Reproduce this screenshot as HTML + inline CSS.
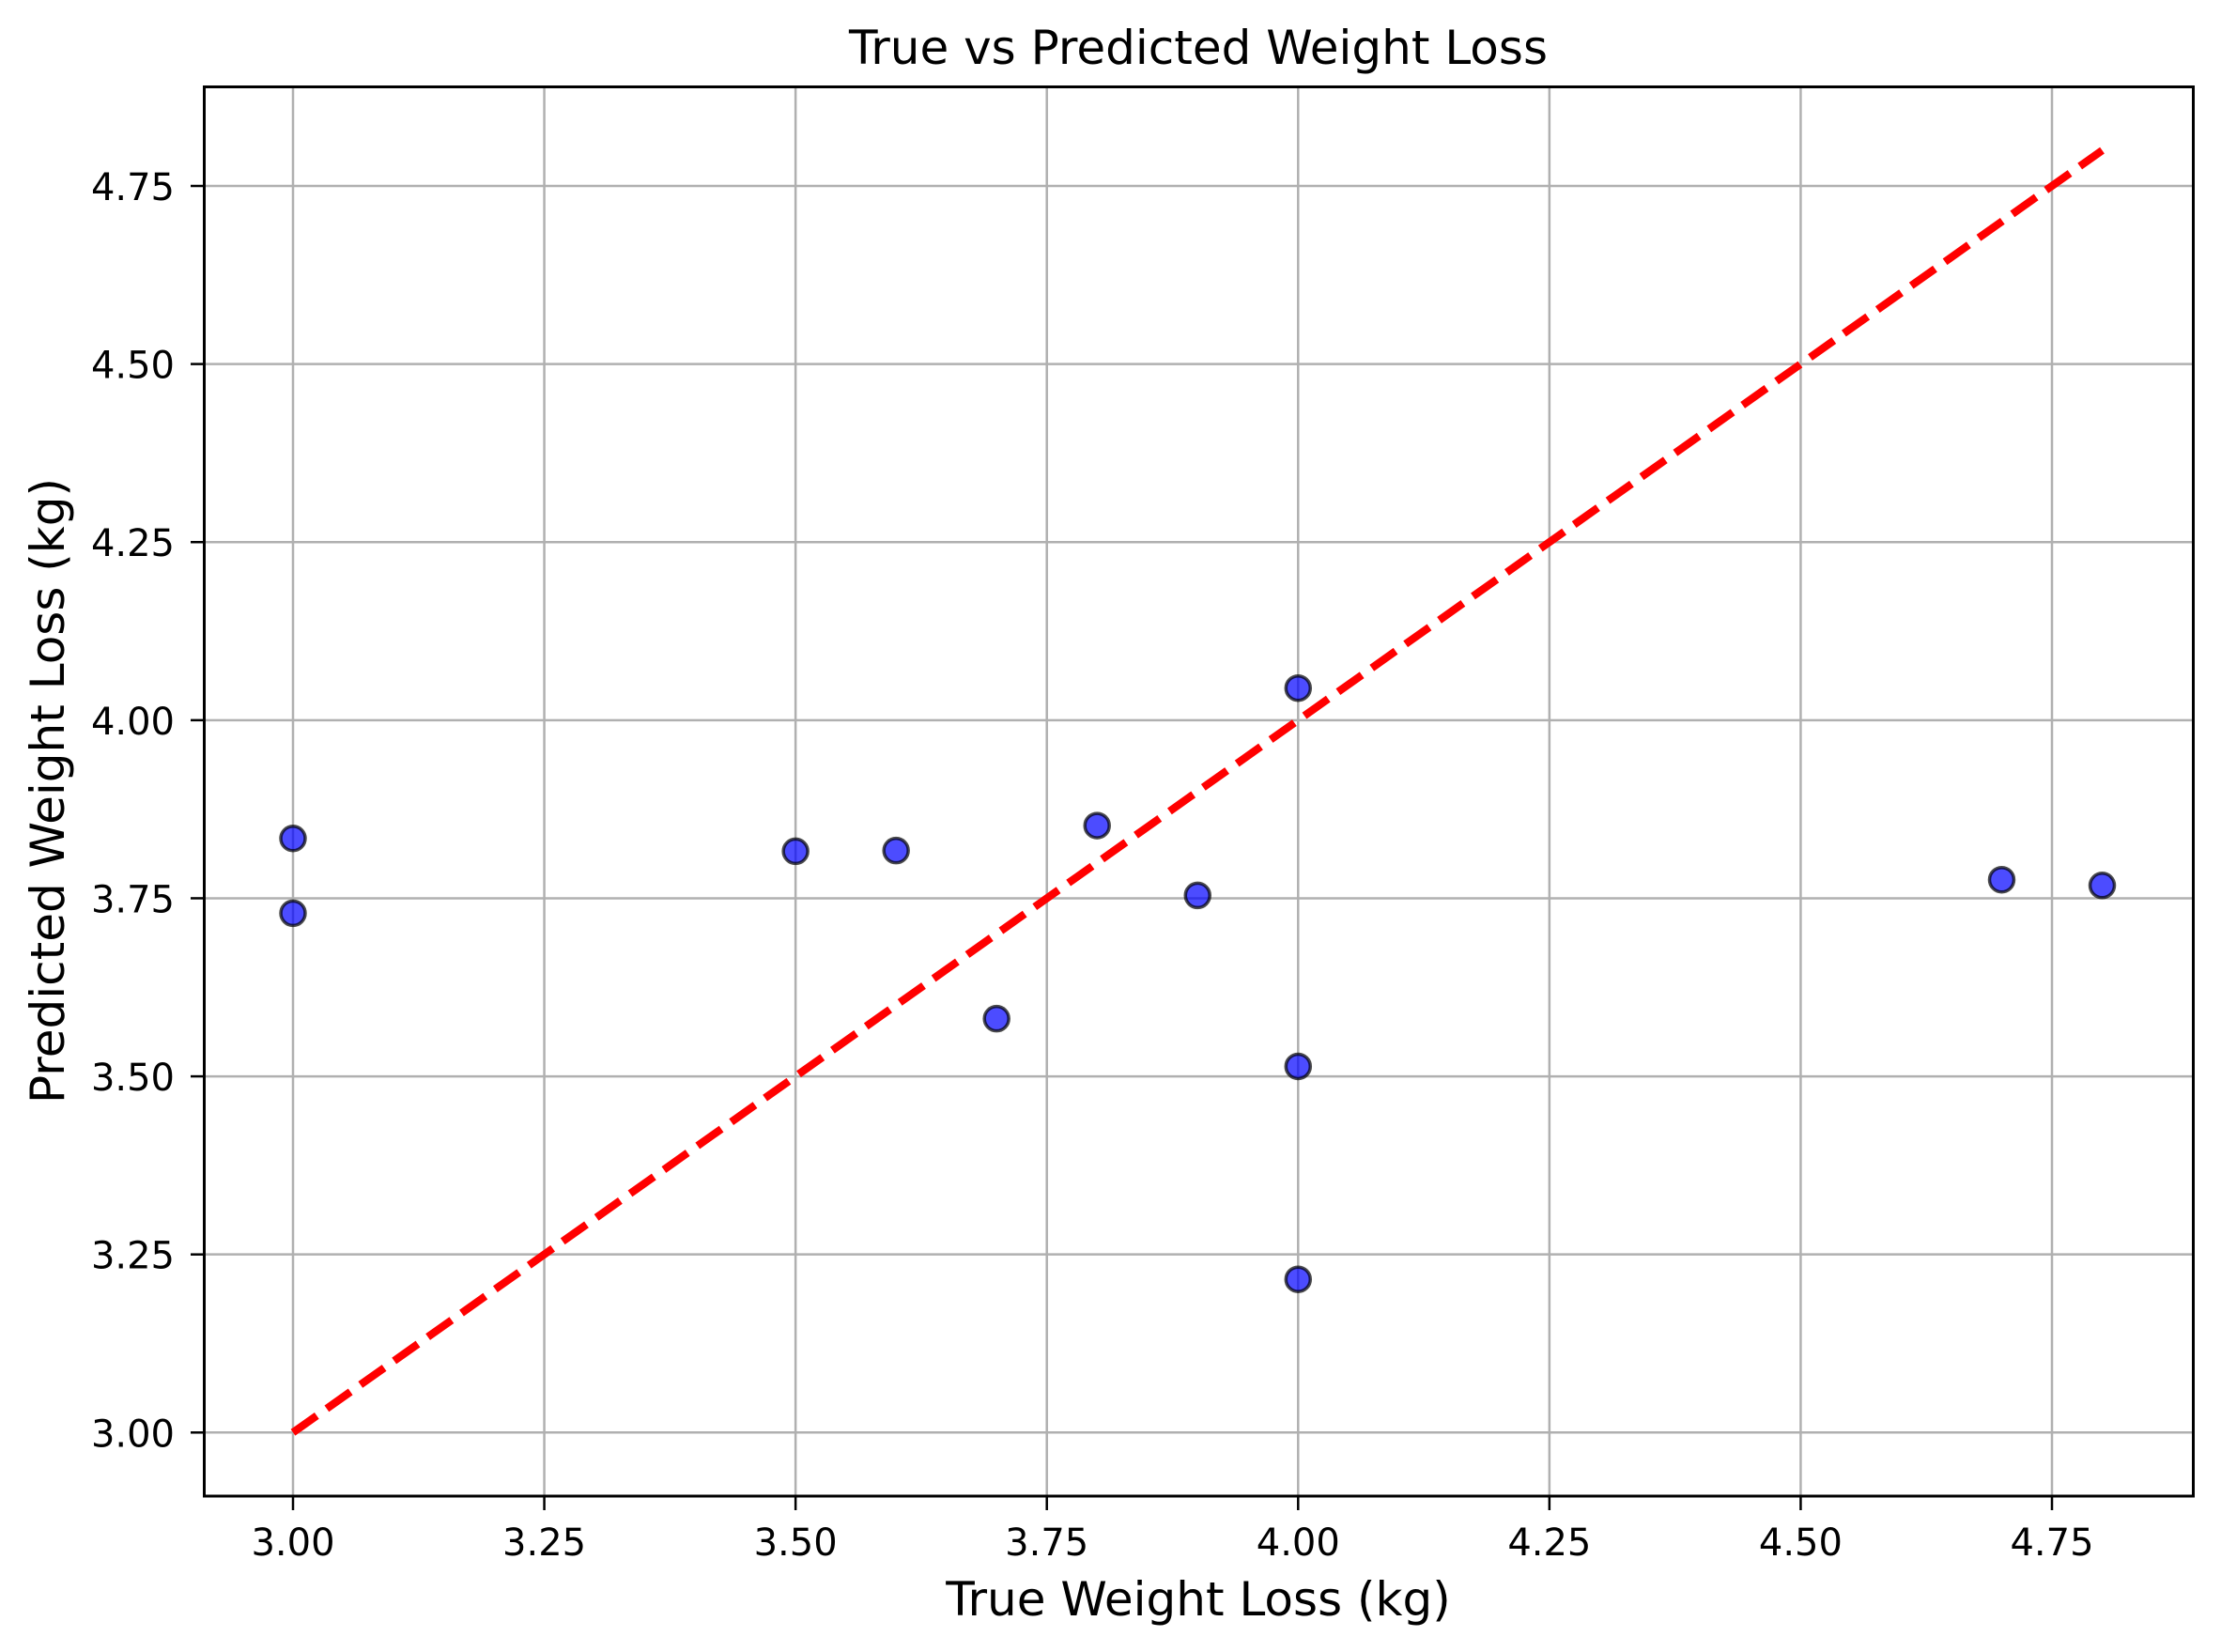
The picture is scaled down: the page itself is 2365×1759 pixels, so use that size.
<!DOCTYPE html>
<html><head><meta charset="utf-8"><style>
html,body{margin:0;padding:0;background:#fff;}
svg{display:block;font-family:"DejaVu Sans","Liberation Sans",sans-serif;}
</style></head><body>
<svg id="chart" width="2365" height="1759" viewBox="0 0 2365 1759" xmlns="http://www.w3.org/2000/svg">
<rect width="2365" height="1759" fill="#fff"/>
<g id="grid"></g>
<g id="ticks"></g>
<g id="marks"></g>
<rect x="217.5" y="92.5" width="2118" height="1500.5" fill="none" stroke="#000" stroke-width="3"/>
<text x="1276" y="68" font-size="50" text-anchor="middle">True vs Predicted Weight Loss</text>
<text x="1276" y="1720" font-size="50" text-anchor="middle">True Weight Loss (kg)</text>
<text x="0" y="0" font-size="50" text-anchor="middle" transform="translate(68,842) rotate(-90)">Predicted Weight Loss (kg)</text>
</svg>
<script>
const xTicks = [3.00, 3.25, 3.50, 3.75, 4.00, 4.25, 4.50, 4.75];
const yTicks = [3.00, 3.25, 3.50, 3.75, 4.00, 4.25, 4.50, 4.75];
const trueVals = [3.0, 3.0, 3.5, 3.6, 3.7, 3.8, 3.9, 4.0, 4.0, 4.0, 4.7, 4.8];
const predVals = [3.834, 3.729, 3.816, 3.817, 3.581, 3.852, 3.754, 4.045, 3.514, 3.215, 3.776, 3.768];
const idealLine = [3.0, 4.8];

const NS = "http://www.w3.org/2000/svg";
function xs(v){ return 312 + (v - 3.0) * (1873 / 1.75); }
function ys(v){ return 1525.3 - (v - 3.0) * (1327.3 / 1.75); }
function mk(tag, attrs, parent){
  const e = document.createElementNS(NS, tag);
  for (const k in attrs) e.setAttribute(k, attrs[k]);
  parent.appendChild(e);
  return e;
}
const grid = document.getElementById('grid');
const ticks = document.getElementById('ticks');
const marks = document.getElementById('marks');

xTicks.forEach(t => {
  const x = xs(t);
  const g = mk('line', {x1:x, x2:x, y1:92.5, y2:1593, stroke:'#b0b0b0', 'stroke-width':2.5}, grid);
  
  
  const tk = mk('line', {x1:x, x2:x, y1:1593, y2:1608, stroke:'#000', 'stroke-width':2.5}, ticks);
  
  
  const lb = mk('text', {x:x, y:1656, 'font-size':40, 'text-anchor':'middle'}, ticks);
  lb.textContent = t.toFixed(2);
  
  
});
yTicks.forEach(t => {
  const y = ys(t);
  const g = mk('line', {x1:217.5, x2:2335.5, y1:y, y2:y, stroke:'#b0b0b0', 'stroke-width':2.5}, grid);
  
  
  const tk = mk('line', {x1:203, x2:217.5, y1:y, y2:y, stroke:'#000', 'stroke-width':2.5}, ticks);
  
  
  const lb = mk('text', {x:186, y:y+15, 'font-size':40, 'text-anchor':'end'}, ticks);
  lb.textContent = t.toFixed(2);
  
  
});
trueVals.forEach((tv, i) => {
  const c = mk('circle', {cx:xs(tv), cy:ys(predVals[i]), r:13, fill:'rgba(0,0,255,0.7)', stroke:'rgba(0,0,0,0.7)', 'stroke-width':3.5}, marks);
  
  
});
const ln = mk('line', {x1:xs(idealLine[0]), y1:ys(idealLine[0]), x2:xs(idealLine[1]), y2:ys(idealLine[1]), stroke:'#ff0000', 'stroke-width':8.3, 'stroke-dasharray':'31,13'}, marks);


</script>
</body></html>
